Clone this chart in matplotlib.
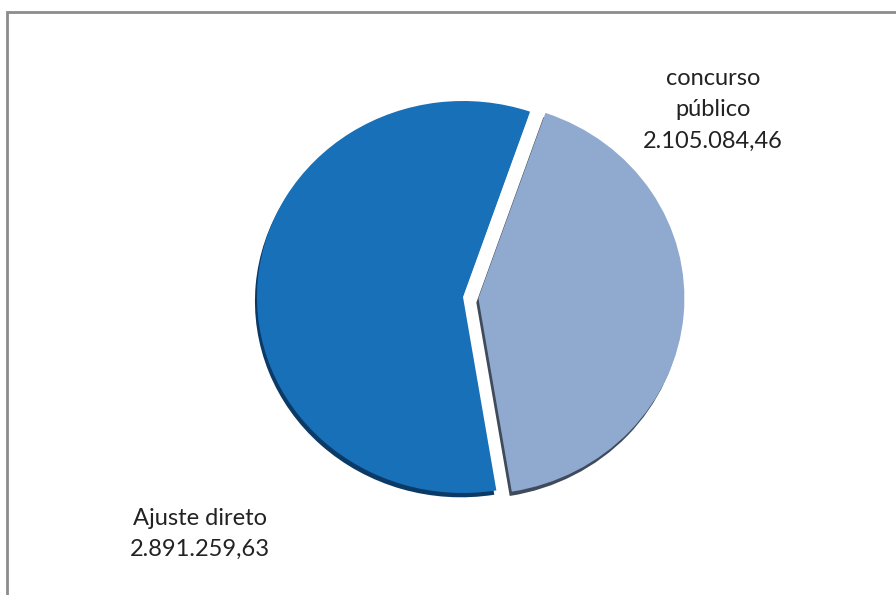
import matplotlib
matplotlib.use("Agg")
import matplotlib.pyplot as plt
from matplotlib.patches import Rectangle

labels = ["concurso\npúblico", "Ajuste direto"]
values = [2105084.46, 2891259.63]
value_text = ["2.105.084,46", "2.891.259,63"]
colors = ["#90aacf", "#1770b8"]
edge_colors = ["#3f4a5a", "#0c3a66"]

W, H = 896, 595
cx, cy = 463, 297        # pie centre in pixels (from top)
rx, ry = 206, 196        # slightly flattened pie

fig = plt.figure(figsize=(W / 100, H / 100), dpi=100)
ax = fig.add_axes([0, 0, 1, 1])

explode = [0.075, 0.0]
start = 71

# darker copy underneath to fake the 3d thickness
ax.pie(values, colors=edge_colors, explode=explode, startangle=start,
       counterclock=False, center=(-0.01, -0.022), radius=1.0,
       wedgeprops=dict(linewidth=0))
ax.pie(values, colors=colors, explode=explode, startangle=start,
       counterclock=False, center=(0, 0), radius=1.0,
       wedgeprops=dict(linewidth=0))

ax.set_aspect("auto")
ax.set_xlim(-cx / rx, (W - cx) / rx)
ax.set_ylim(-(H - cy) / ry, cy / ry)
ax.axis("off")

# outer grey frame of the chart area
fig.patches.append(Rectangle((7 / W, -0.1), 1.2, (H - 12) / H + 0.1,
                             transform=fig.transFigure, fill=False,
                             edgecolor="#8c8c8c", linewidth=2))

font = ["Lato", "DejaVu Sans"]
fig.text(713 / W, 1 - 110 / H, labels[0] + "\n" + value_text[0],
         ha="center", va="center", fontsize=17, color="#222222",
         family=font, linespacing=1.6)
fig.text(200 / W, 1 - 534 / H, labels[1] + "\n" + value_text[1],
         ha="center", va="center", fontsize=17, color="#222222",
         family=font, linespacing=1.6)

fig.savefig("out.png", dpi=100)
